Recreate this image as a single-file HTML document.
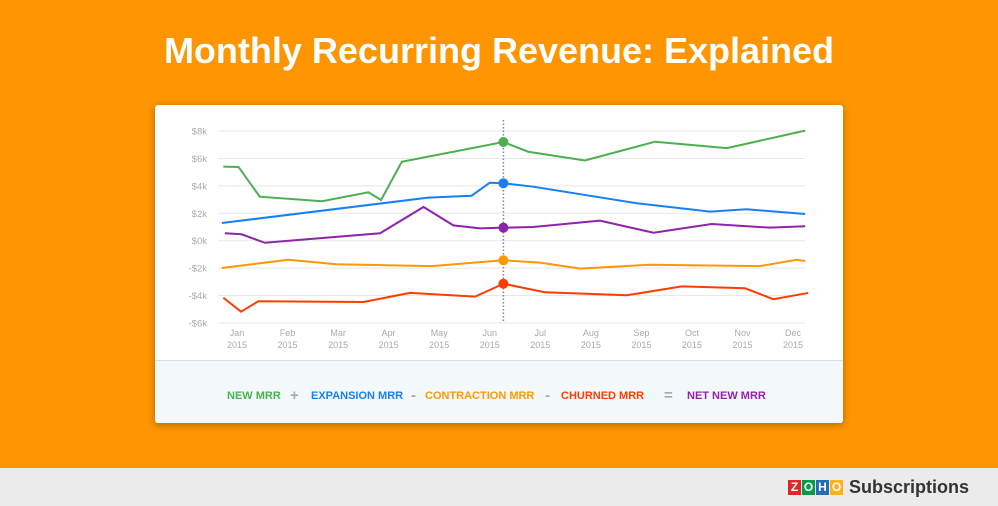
<!DOCTYPE html>
<html><head><meta charset="utf-8"><style>
body{margin:0;width:998px;height:506px;overflow:hidden;background:#ff9500;font-family:"Liberation Sans",sans-serif;position:relative}
#title{position:absolute;left:0;top:30px;width:998px;text-align:center;color:#fff;font-size:36px;font-weight:bold}
#card{position:absolute;left:155px;top:105px;width:688px;height:318px;background:#fff;border-radius:3px;box-shadow:0 2px 8px rgba(0,0,0,.3);overflow:hidden}
#legend{position:absolute;left:0;top:255px;width:688px;height:63px;background:#f3f8fb;border-top:1px solid #d9dee2}
.lg{position:absolute;top:29px;font-size:11px;font-weight:bold;white-space:nowrap}
.op{position:absolute;top:26px;font-size:15px;font-weight:bold;color:#aaa}
#footer{position:absolute;left:0;top:468px;width:998px;height:38px;background:#ebebeb}
#brand{position:absolute;right:29px;top:9px;font-size:18px;font-weight:bold;color:#333}
.z{display:inline-block;width:13px;height:15px;color:#fff;font-size:12px;text-align:center;line-height:15px;margin-right:1px;vertical-align:2px}
</style></head><body>
<div id="title">Monthly Recurring Revenue: Explained</div>
<div id="card">
<svg id="chart" width="688" height="255"></svg>
<div id="legend">
<span class="lg" style="left:72px;color:#4caf50">NEW MRR</span>
<span class="op" style="left:135px">+</span>
<span class="lg" style="left:156px;color:#1a7ff5">EXPANSION MRR</span>
<span class="op" style="left:256px">-</span>
<span class="lg" style="left:270px;color:#ff9800">CONTRACTION MRR</span>
<span class="op" style="left:390px">-</span>
<span class="lg" style="left:406px;color:#ff3d00">CHURNED MRR</span>
<span class="op" style="left:509px">=</span>
<span class="lg" style="left:532px;color:#8e24aa">NET NEW MRR</span>
</div></div>
<div id="footer">
<div id="brand"><span class="z" style="background:#e42527">Z</span><span class="z" style="background:#089949">O</span><span class="z" style="background:#226db4">H</span><span class="z" style="background:#f9b21d">O</span> Subscriptions</div>
</div>
<script>
const months=["Jan","Feb","Mar","Apr","May","Jun","Jul","Aug","Sep","Oct","Nov","Dec"];
const yTicks=[8,6,4,2,0,-2,-4,-6];
const greenX=[-0.27,0.03,0.45,1.68,2.60,2.85,3.26,5.27,5.76,6.88,8.27,9.69,11.24];
const greenY=[5.40,5.38,3.21,2.88,3.53,2.97,5.76,7.20,6.49,5.85,7.22,6.75,8.03];
const blueX=[-0.30,3.78,4.64,5.00,5.27,5.86,7.91,9.36,10.08,11.24];
const blueY=[1.29,3.14,3.28,4.23,4.19,3.94,2.73,2.12,2.29,1.95];
const purpleX=[-0.24,0.09,0.55,2.83,3.69,4.28,4.81,5.27,5.86,7.18,8.24,9.39,10.54,11.24];
const purpleY=[0.54,0.47,-0.15,0.54,2.46,1.12,0.90,0.95,1.00,1.46,0.58,1.22,0.95,1.05];
const orangeX=[-0.30,1.01,1.97,3.85,5.27,5.99,6.79,8.17,10.35,11.07,11.24];
const orangeY=[-1.99,-1.39,-1.72,-1.85,-1.43,-1.60,-2.04,-1.75,-1.85,-1.39,-1.48];
const redX=[-0.27,0.08,0.42,2.50,3.42,4.71,5.27,6.09,7.71,8.80,10.05,10.61,11.30];
const redY=[-4.16,-5.18,-4.42,-4.47,-3.81,-4.08,-3.14,-3.76,-3.98,-3.33,-3.47,-4.27,-3.81];
const markerX=5.27;
const svg=document.getElementById('chart');
const NS='http://www.w3.org/2000/svg';
const ox=155,oy=105;
const xs=m=>237+m*50.55-ox;
const ys=v=>240.7-v*13.71-oy;
function mk(t,a){const e=document.createElementNS(NS,t);for(const k in a)e.setAttribute(k,a[k]);svg.appendChild(e);return e;}
yTicks.forEach(v=>{
 const g=mk('line',{x1:63,x2:650,y1:ys(v),y2:ys(v),stroke:'#e8e8e8','stroke-width':1});
 
 
 const t=mk('text',{x:52,y:ys(v)+3.5,'text-anchor':'end','font-size':9.5,fill:'#aaa','font-family':'Liberation Sans'});
 t.textContent=(v<0?'-$':'$')+Math.abs(v)+'k';
 
 
});
months.forEach((m,i)=>{
 const t=mk('text',{x:xs(i),y:231,'text-anchor':'middle','font-size':9,fill:'#aaa','font-family':'Liberation Sans'});
 t.textContent=m;
 
 
 const t2=mk('text',{x:xs(i),y:243,'text-anchor':'middle','font-size':9,fill:'#aaa','font-family':'Liberation Sans'});
 t2.textContent='2015';
 
 
});
const vl=mk('line',{x1:xs(markerX),x2:xs(markerX),y1:15,y2:218,stroke:'#888','stroke-width':1.5,'stroke-dasharray':'1.5,2'});


const series=[[greenX,greenY,'#4caf50','new-mrr'],[blueX,blueY,'#1a7ff5','expansion-mrr'],[purpleX,purpleY,'#8e24aa','net-new-mrr'],[orangeX,orangeY,'#ff9800','contraction-mrr'],[redX,redY,'#ff3d00','churned-mrr']];
series.forEach(([X,Y,c,n])=>{
 const p=mk('polyline',{points:X.map((x,i)=>xs(x)+','+ys(Y[i])).join(' '),fill:'none',stroke:c,'stroke-width':2});
 
 
 const i=X.indexOf(markerX);
 const d=mk('circle',{cx:xs(markerX),cy:ys(Y[i]),r:5,fill:c});
 
 
});
</script>
</body></html>
